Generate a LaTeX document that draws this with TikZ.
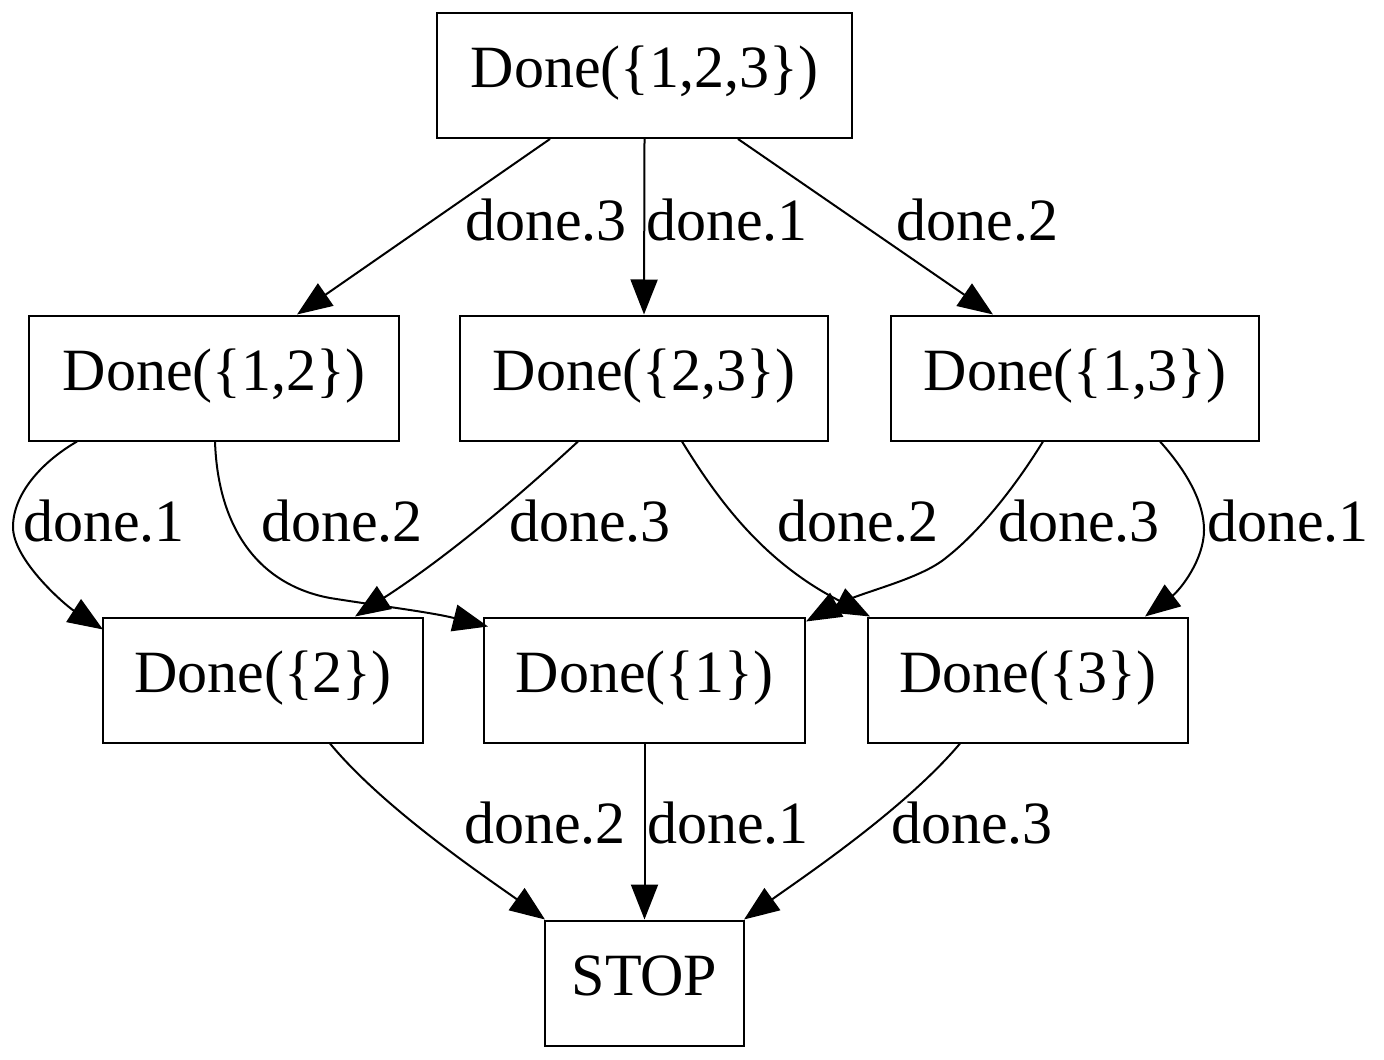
\documentclass[tikz,border=0pt]{standalone}
\usepackage{fontspec}
\setmainfont{Liberation Serif}
\usetikzlibrary{arrows.meta,calc}
\tikzset{
  state/.style={draw=black, line width=1pt, rectangle, inner sep=0pt,
    minimum height=62.5pt, text height=21pt, text depth=8.5pt,
    font=\fontsize{30pt}{36pt}\selectfont},
  edge/.style={draw=black, line width=1pt, -{Triangle[length=17.5pt,width=13.5pt]}},
  lbl/.style={anchor=base, inner sep=0pt, font=\fontsize{30pt}{36pt}\selectfont}
}
\begin{document}
\begin{tikzpicture}[x=0.5pt,y=-0.5pt]
\useasboundingbox (0,0) rectangle (1384,1059);
% nodes
\node[state, minimum width=207.5pt] (n123) at (644.5,75.5) {Done(\{1,2,3\})};
\node[state, minimum width=185pt] (n12) at (214,378) {Done(\{1,2\})};
\node[state, minimum width=184pt] (n23) at (644,378) {Done(\{2,3\})};
\node[state, minimum width=184pt] (n13) at (1075,378) {Done(\{1,3\})};
\node[state, minimum width=160pt] (n2) at (263,680) {Done(\{2\})};
\node[state, minimum width=160.5pt] (n1) at (644.5,680) {Done(\{1\})};
\node[state, minimum width=160pt] (n3) at (1028,680) {Done(\{3\})};
\node[state, minimum width=99.5pt] (stop) at (644.5,983) {STOP};
% edges top
\draw[edge] ($(n123.south)+(-94.5,0)$) -- ($(n12.north)+(83,0)$);
\draw[edge] (n123.south) -- (n23.north);
\draw[edge] ($(n123.south)+(93.5,0)$) -- ($(n13.north)+(-82,0)$);
% edges middle
\draw[edge] ($(n12.south)+(-137,0)$) .. controls (40,463) and (13,495) .. (13,527)
  .. controls (13,560) and (65,605) .. ($(n2.north)+(-160,13)$);
\draw[edge] ($(n12.south)+(1,0)$) .. controls (218,530) and (260,585) .. (330,598)
  .. controls (380,606) and (430,612) .. ($(n1.north)+(-156.5,10)$);
\draw[edge] ($(n23.south)+(-66,0)$) .. controls (520,495) and (450,555) .. ($(n2.north)+(92,0)$);
\draw[edge] ($(n23.south)+(38,0)$) .. controls (715,495) and (760,560) .. ($(n3.north)+(-158,0)$);
\draw[edge] ($(n13.south)+(-32,0)$) .. controls (1010,495) and (975,535) .. (947,557)
  .. controls (920,580) and (860,592) .. ($(n1.north)+(161.5,5)$);
\draw[edge] ($(n13.south)+(85,0)$) .. controls (1190,475) and (1204,505) .. (1204,530)
  .. controls (1204,560) and (1180,590) .. ($(n3.north)+(117,0)$);
% edges bottom
\draw[edge] ($(n2.south)+(67,0)$) .. controls (385,810) and (490,880) .. ($(stop.north)+(-99.5,0)$);
\draw[edge] (n1.south) -- (stop.north);
\draw[edge] ($(n3.south)+(-68,0)$) .. controls (904,810) and (799,880) .. ($(stop.north)+(99.5,0)$);
% labels
\node[lbl] (la) at (546,240) {done.3};
\node[lbl] (lb) at (727,240) {done.1};
\node[lbl] (lc) at (977.5,240) {done.2};
\node[lbl] (ld) at (104,541) {done.1};
\node[lbl] (le) at (342,541) {done.2};
\node[lbl] (lf) at (590,541) {done.3};
\node[lbl] (lg) at (858,541) {done.2};
\node[lbl] (lh) at (1079,541) {done.3};
\node[lbl] (li) at (1288,541) {done.1};
\node[lbl] (lj) at (545,843) {done.2};
\node[lbl] (lk) at (728,843) {done.1};
\node[lbl] (ll) at (972,843) {done.3};
\end{tikzpicture}
\end{document}
